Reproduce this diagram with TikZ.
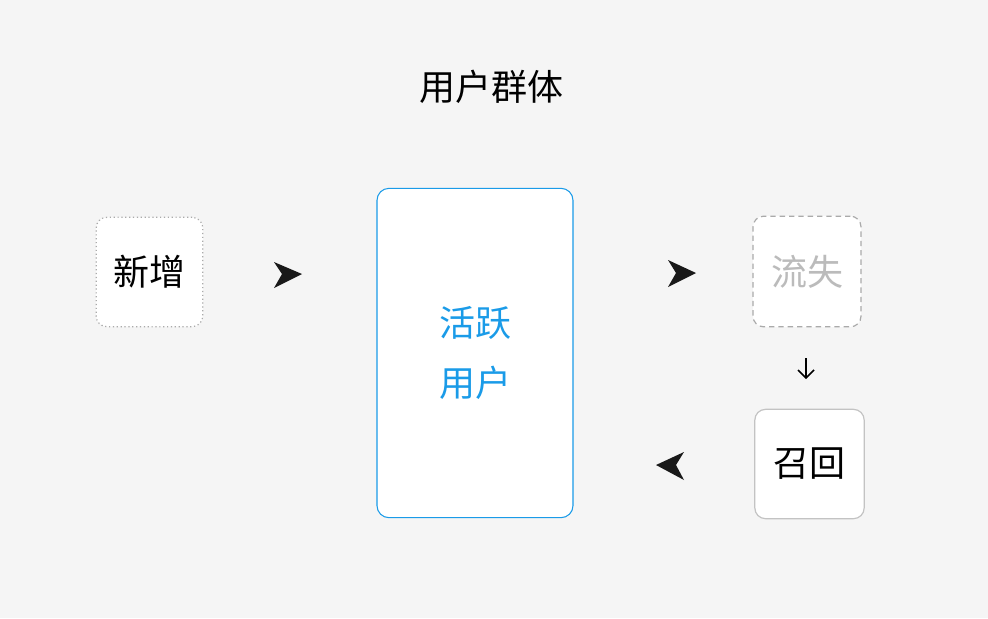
\documentclass[tikz,border=0pt]{standalone}
\usepackage{fontspec}
\setmainfont{Noto Sans CJK SC}
\definecolor{bg}{HTML}{F5F5F5}
\definecolor{blu}{HTML}{1A9BE8}
\definecolor{gr}{HTML}{AAAAAA}
\begin{document}
\begin{tikzpicture}[x=0.75pt,y=-0.75pt,
  box/.style={draw,fill=white,rounded corners=8pt,line width=0.9pt,font=\fontsize{27}{30}\selectfont},
  head/.style={fill=black!90}]
\fill[bg] (0,0) rectangle (988,618);
\useasboundingbox (0,0) rectangle (988,618);
\node[font=\fontsize{27}{30}\selectfont] (title) at (491,87) {用户群体};
\node[box,draw=gr,dotted,minimum width=80pt,minimum height=82pt] (new) at (149.5,272) {新增};
\node[box,draw=blu,line width=0.8pt,rounded corners=9pt,minimum width=147pt,minimum height=247pt,text=blu,align=center,font=\fontsize{27}{45}\selectfont] (act) at (475,353) {活跃\\用户};
\node[box,draw=gr,dashed,dash pattern=on 4pt off 3pt,text=gr!80,minimum width=81pt,minimum height=83pt] (lost) at (807,271.5) {流失};
\node[box,draw=gr!70,minimum width=82pt,minimum height=82pt] (back) at (809.5,464) {召回};
% arrowheads
\fill[head] (302,274) -- (274,262) -- (282,274) -- (274,288) -- cycle;
\fill[head] (696,273) -- (668,260) -- (676,273) -- (668,287) -- cycle;
\fill[head] (656,465) -- (684,452) -- (676,465) -- (684,480) -- cycle;
\coordinate (d1) at (806,358);
\coordinate (d2) at (806,378);
\draw[line width=1.3pt] (d1) -- (d2);
\draw[line width=1.3pt] (798,370) -- (d2) -- (814,370);
\end{tikzpicture}
\end{document}
